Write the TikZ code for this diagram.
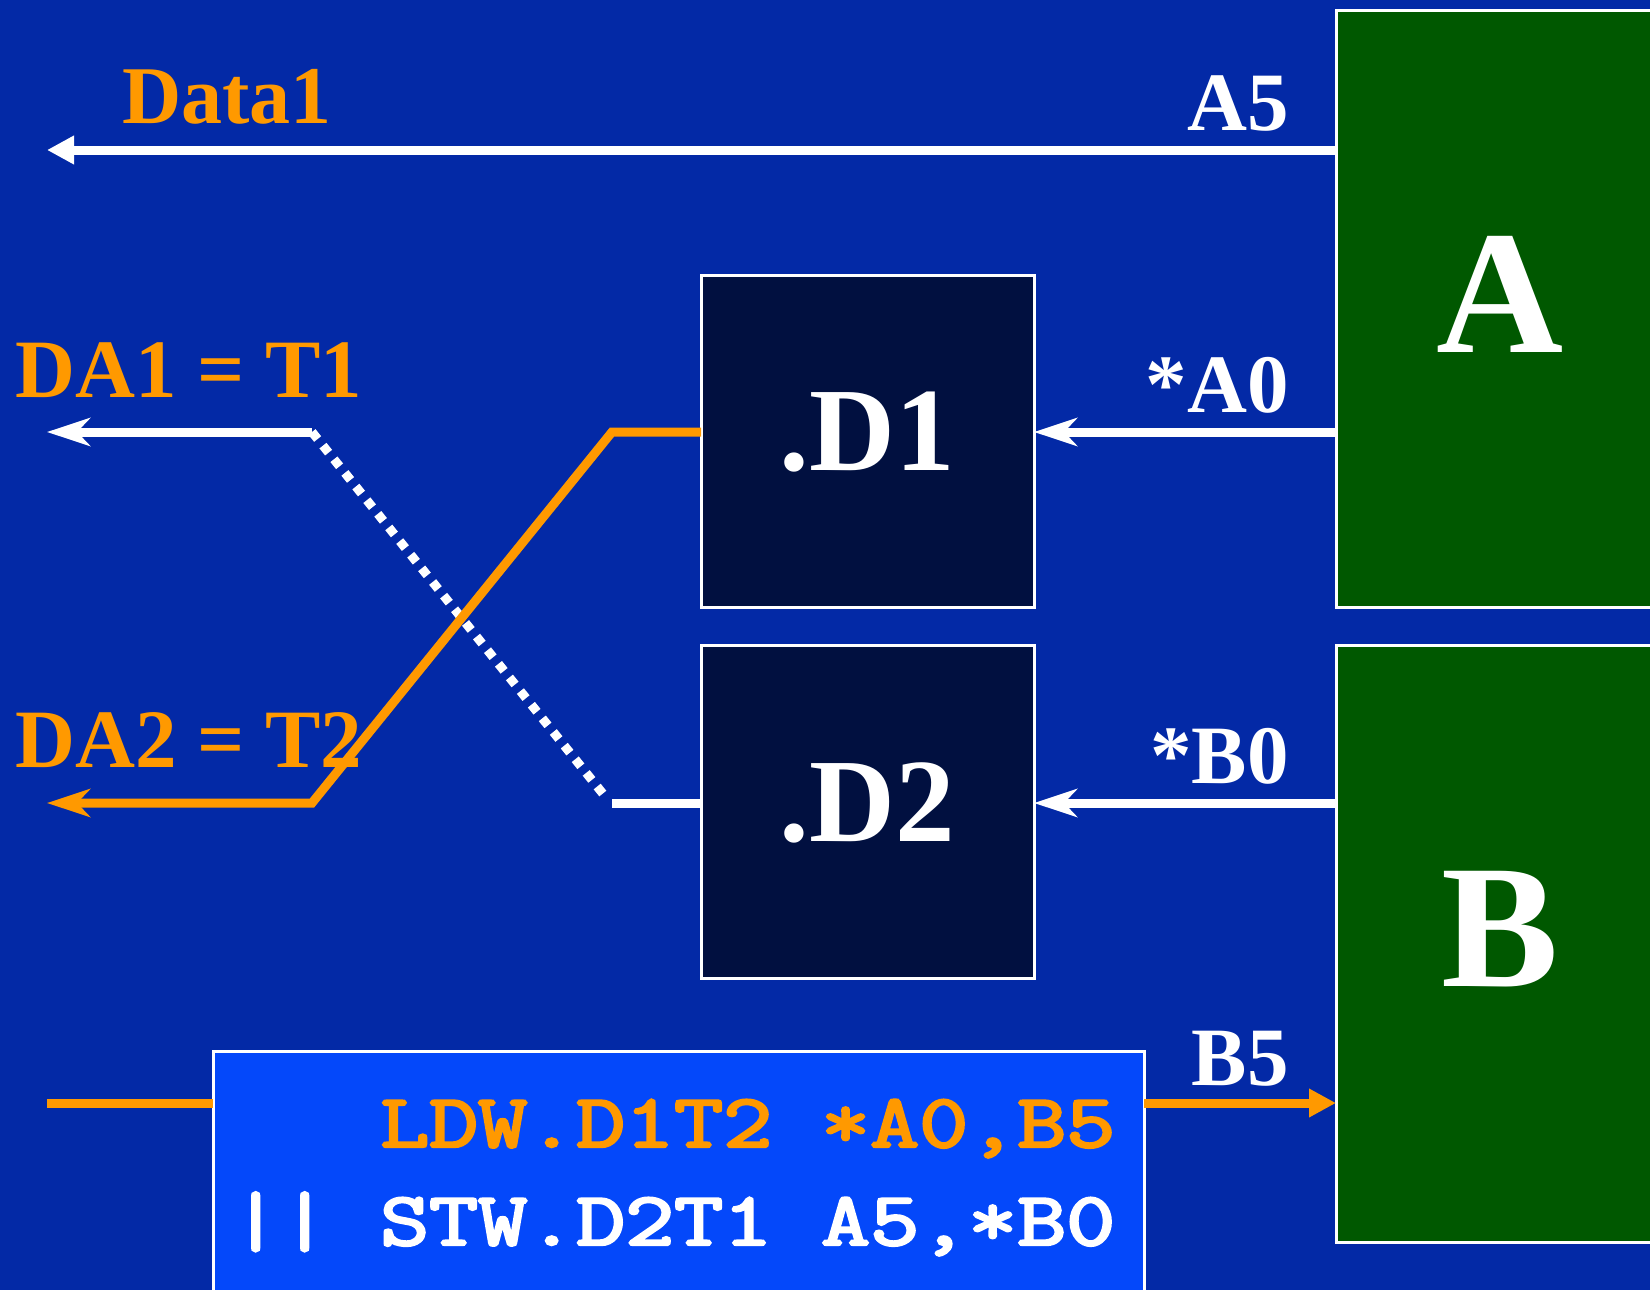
\documentclass[tikz,border=0pt]{standalone}
\usepackage{fontspec}
\setmainfont{Liberation Serif}
\newfontfamily\monof{Latin Modern Mono}[FakeBold=3.2]
\usetikzlibrary{arrows.meta}
\definecolor{bg}{RGB}{3,41,166}
\definecolor{orng}{RGB}{255,153,0}
\definecolor{navy}{RGB}{1,16,64}
\definecolor{grn}{RGB}{0,88,0}
\definecolor{brt}{RGB}{4,72,250}
\newcommand{\codetext}[1]{\scalebox{1.252}[1]{#1}}
\tikzset{
  boxbase/.style={draw=white, line width=3pt, inner sep=0pt, outer sep=0pt, anchor=north west},
  gbox/.style={boxbase, fill=grn},
  dbox/.style={boxbase, fill=navy},
  ibox/.style={boxbase, fill=brt},
  wline/.style={draw=white, line width=9pt},
  oline/.style={draw=orng, line width=9pt},
  dotline/.style={draw=white, line width=9pt, dash pattern=on 9pt off 8.5pt},
  sharptip/.style={-{Stealth[length=43pt,width=28pt,inset=13pt]}},
  filltip/.style={-{Triangle[length=27pt,width=27pt]}},
  lab/.style={font=\fontsize{83}{90}\selectfont\bfseries, text=white, inner sep=0pt, anchor=base east},
  olab/.style={font=\fontsize{83}{90}\selectfont\bfseries, text=orng, inner sep=0pt, anchor=base west},
  dlab/.style={font=\fontsize{119}{130}\selectfont\bfseries, text=white, inner sep=0pt, anchor=base},
  biglab/.style={font=\fontsize{176}{190}\selectfont\bfseries, text=white, inner sep=0pt, anchor=base},
  code/.style={font=\monof\fontsize{76}{90}\selectfont, inner sep=0pt, anchor=base west}
}
\begin{document}
\begin{tikzpicture}[x=1pt,y=-1pt]
\useasboundingbox (0,0) rectangle (1650,1290);
\clip (0,0) rectangle (1650,1290);
\fill[bg] (0,0) rectangle (1650,1290);

% boxes
\node[gbox, minimum width=420pt, minimum height=596.5pt] (A) at (1336,10.5) {};
\node[gbox, minimum width=420pt, minimum height=597pt] (B) at (1336,645) {};
\node[dbox, minimum width=333pt, minimum height=332pt] (D1) at (701,275) {};
\node[dbox, minimum width=333pt, minimum height=333pt] (D2) at (701,645) {};
\node[ibox, minimum width=931pt, minimum height=300pt] (I) at (213,1051) {};

% helper coordinates
\coordinate (data1end) at (47,150);
\coordinate (r1) at (0,432);
\coordinate (r2) at (0,803);
\coordinate (r3) at (0,1103);
\coordinate (ostart) at (47,1103);
\coordinate (w1) at (312,432);
\coordinate (da1end) at (47,432);
\coordinate (w2) at (608,800);
\coordinate (w2b) at (612,803);
\coordinate (o1) at (612,432);
\coordinate (o2) at (312,803);
\coordinate (da2end) at (47,803);

% connectors
\draw[wline, filltip] (A.west |- data1end) -- (data1end);
\draw[wline, sharptip] (A.west |- r1) -- (D1.east |- r1);
\draw[wline, sharptip] (B.west |- r2) -- (D2.east |- r2);
\draw[oline, filltip] (I.east |- r3) -- (B.west |- r3);
\draw[oline] (ostart) -- (I.west |- ostart);

\draw[wline, sharptip] (w1) -- (da1end);
\draw[dotline] (w1) -- (w2);
\draw[wline] (w2b) -- (D2.west |- w2b);
\draw[oline, sharptip] (D1.west |- r1) -- (o1) -- (o2) -- (da2end);

% labels
\node[olab, font=\fontsize{82}{90}\selectfont\bfseries] (tData) at (122,124) {Data1};
\node[lab] (tA5) at (1289,130) {A5};
\node[lab] (tA0) at (1289,412) {*A0};
\node[lab] (tB0) at (1289,783) {*B0};
\node[lab] (tB5) at (1289,1085) {B5};
\node[olab] (tDA1) at (15,397) {DA1 = T1};
\node[olab] (tDA2) at (15,767) {DA2 = T2};
\node[dlab] (tD1) at (867.5,470) {.D1};
\node[dlab] (tD2) at (867.5,841) {.D2};
\node[biglab] (tAA) at (1500,352) {A};
\node[biglab] (tBB) at (1500,986) {B};

% code
\node[code, text=orng] (c1) at (380,1147) {\codetext{LDW.D1T2 *A0,B5}};
\node[code, text=white] (c2) at (380,1245) {\codetext{STW.D2T1 A5,*B0}};
\node[code, text=white] (c0) at (231,1245) {\codetext{||}};
\end{tikzpicture}
\end{document}
